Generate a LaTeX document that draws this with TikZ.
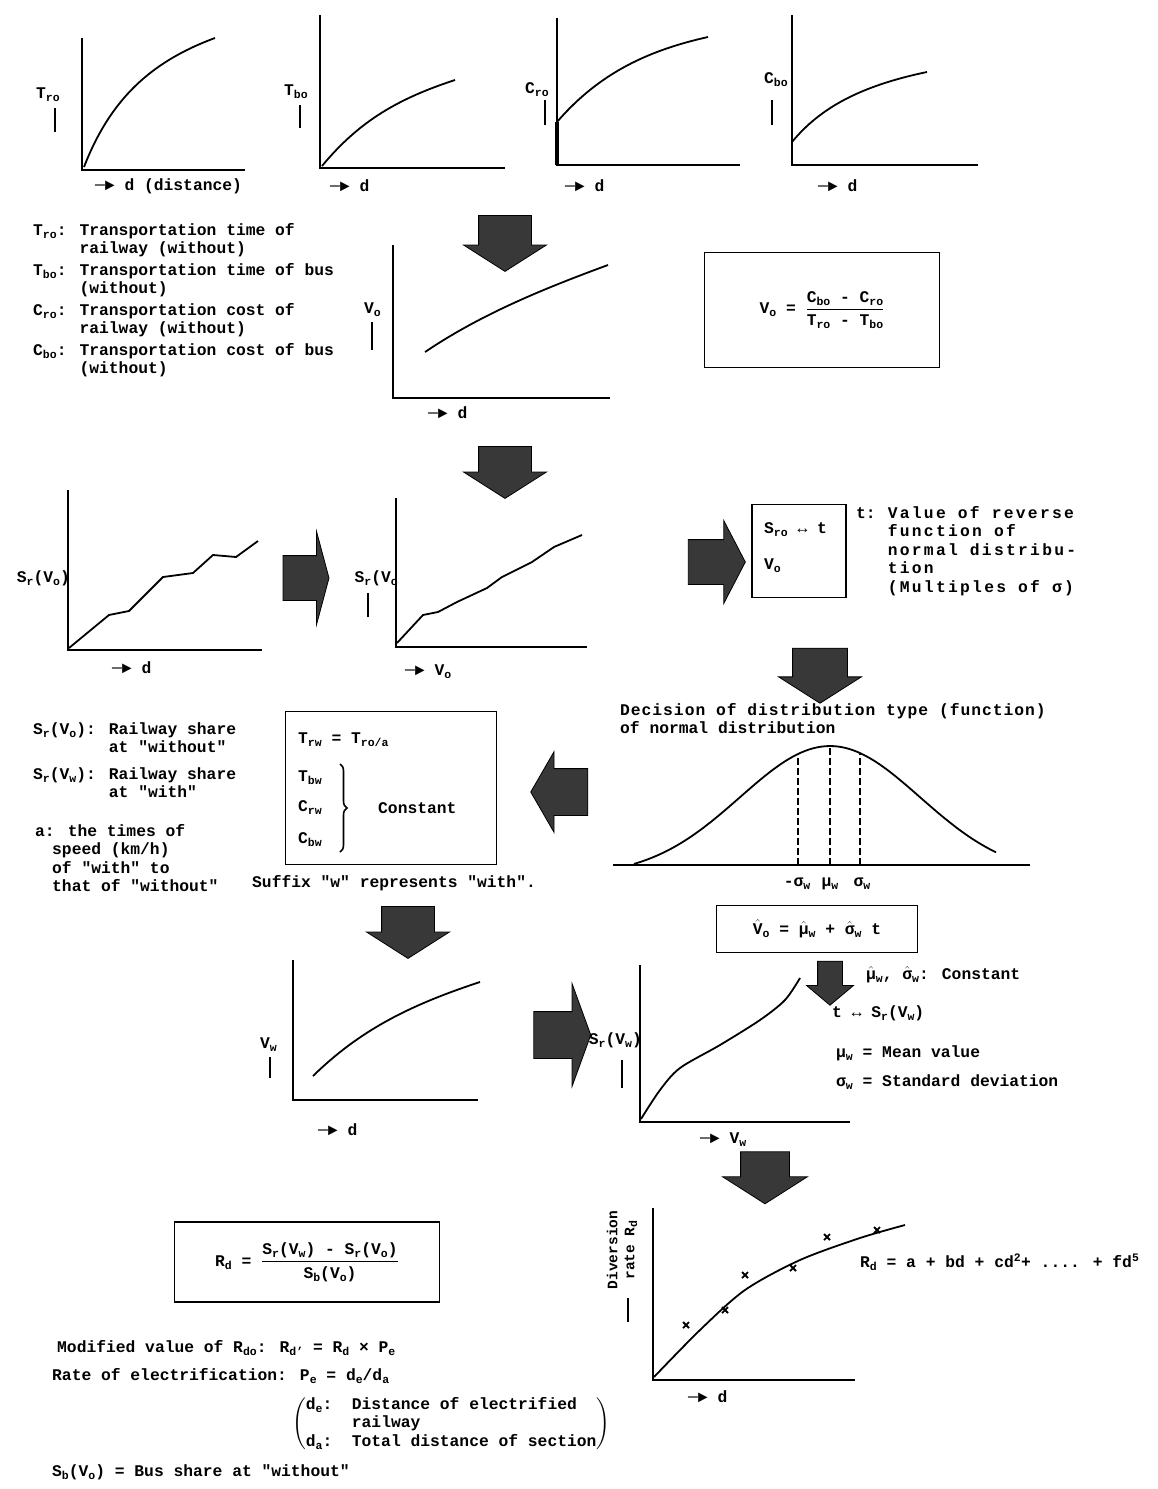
\documentclass[tikz,border=0pt]{standalone}
\usepackage{amsmath}
\usepackage{fontspec}
\setmainfont{Liberation Mono}
\newfontfamily\widefont{Liberation Mono}[LetterSpace=14]
\newfontfamily\decfont{Liberation Mono}[LetterSpace=6]
\usetikzlibrary{shapes.arrows,decorations.pathreplacing}

% small lowered subscript in the running font
\newcommand{\lo}[1]{\raisebox{-0.35ex}{\fontsize{11.5}{11.5}\selectfont #1}}
\newcommand{\hatted}[1]{$\hat{\text{#1}}$}
\newcommand{\qq}[1]{\textquotedbl#1\textquotedbl}

\tikzset{
  axisline/.style={line width=1.9pt},
  curveline/.style={line width=1.8pt},
  ybar/.style={line width=2.8pt},
  boxed/.style={draw, line width=1.7pt},
  lbl/.style={anchor=west},
  blockarrow/.style={single arrow, draw=black, line width=0.8pt, fill=black!78, inner sep=0pt},
  dashline/.style={line width=2.6pt, dash pattern=on 7pt off 3pt},
}

\begin{document}
\begin{tikzpicture}[x=1pt, y=-1pt, every node/.style={font=\bfseries\fontsize{16.3}{18.5}\selectfont, inner sep=0pt}]
  \fill[white] (0,0) rectangle (1157,1489);
  \useasboundingbox (0,0) rectangle (1157,1489);

  % top row: times and costs against distance
  \draw[axisline] (82,38) -- (82,170) -- (245,170);
  \draw[curveline] (84,167) .. controls (110,100) and (150,62) .. (215,38);
  \node[lbl] (trolab) at (36,95) {T\lo{ro}};
  \draw[ybar] (55,108) -- (55,132);
  \node[lbl] (trod) at (95,186) {─► d (distance)};

  \draw[axisline] (320,15) -- (320,168) -- (505,168);
  \draw[curveline] (322,166) .. controls (360,120) and (400,98) .. (455,80);
  \node[lbl] (tbolab) at (284,92) {T\lo{bo}};
  \draw[ybar] (300,105) -- (300,128);
  \node[lbl] (tbod) at (330,186) {─► d};

  \draw[axisline] (557,18) -- (557,165) -- (740,165);
  \draw[line width=3.6pt] (557,122) -- (557,165);
  \draw[curveline] (557,122) .. controls (600,72) and (650,50) .. (708,37);
  \node[lbl] (crolab) at (525,90) {C\lo{ro}};
  \draw[ybar] (545,100) -- (545,125);
  \node[lbl] (crod) at (565,186) {─► d};

  \draw[axisline] (792,15) -- (792,165) -- (978,165);
  \draw[curveline] (792,142) .. controls (820,108) and (860,86) .. (927,72);
  \node[lbl] (cbolab) at (764,80) {C\lo{bo}};
  \draw[ybar] (772,100) -- (772,125);
  \node[lbl] (cbod) at (818,186) {─► d};

  \node[blockarrow, shape border rotate=270, minimum height=56pt, inner xsep=26pt,
        single arrow head extend=15pt, single arrow tip angle=115] (down1) at (505,235) {};

  % legend of the top row
  \node[anchor=north west] (legtop) at (33,222) {%
    \begin{tabular}{@{}l@{ }l@{}}
      T\lo{ro}: & Transportation time of\\
                & railway (without)\\[3pt]
      T\lo{bo}: & Transportation time of bus\\
                & (without)\\[3pt]
      C\lo{ro}: & Transportation cost of\\
                & railway (without)\\[3pt]
      C\lo{bo}: & Transportation cost of bus\\
                & (without)
    \end{tabular}};

  % value of time
  \draw[axisline] (393,245) -- (393,398) -- (610,398);
  \draw[curveline] (425,352) .. controls (480,315) and (540,290) .. (608,265);
  \node[lbl] (volab) at (364,310) {V\lo{o}};
  \draw[ybar] (372,322) -- (372,350);
  \node[lbl] (vod) at (428,413) {─► d};

  \node[boxed, minimum width=235pt, minimum height=115pt] (vobox) at (822,310)
    {V\lo{o} = $\dfrac{\text{C\lo{bo} - C\lo{ro}}}{\text{T\lo{ro} - T\lo{bo}}}$};

  \node[blockarrow, shape border rotate=270, minimum height=52pt, inner xsep=26pt,
        single arrow head extend=15pt, single arrow tip angle=115] (down2) at (505,464) {};

  % railway share
  \draw[axisline] (68,490) -- (68,650) -- (262,650);
  \draw[curveline] (69,648) -- (109,615) -- (129,611) -- (163,577) -- (193,573)
    -- (213,555) -- (236,557) -- (258,541);
  \node[anchor=east] (srdlab) at (70,578) {S\lo{r}(V\lo{o})};
  \node[lbl] (srdd) at (112,668) {─► d};

  \node[blockarrow, minimum height=46pt, inner ysep=22pt,
        single arrow head extend=24pt, single arrow tip angle=150] (right1) at (303,578) {};

  \draw[axisline] (396,498) -- (396,647) -- (587,647);
  \draw[curveline] (397,643) -- (423,615) -- (438,612) -- (457,602) -- (487,588)
    -- (502,577) -- (532,562) -- (554,547) -- (582,535);
  \node[anchor=east] (srvlab) at (398,578) {S\lo{r}(V\lo{o}};
  \draw[ybar] (368,593) -- (368,617);
  \node[lbl] (srvd) at (405,672) {─► V\lo{o}};

  \node[blockarrow, minimum height=57pt, inner ysep=22pt,
        single arrow head extend=19pt, single arrow tip angle=125] (right2) at (711,562) {};

  \node[boxed, minimum width=94pt, minimum height=93pt] (srobox) at (799,551) {};
  \node[lbl] (srot) at (764,530) {S\lo{ro} ↔ t};
  \node[lbl] (srov) at (764,566) {V\lo{o}};

  \node[anchor=north west] (tnote) at (856,505) {%
    \begin{tabular}{@{}l@{\hspace{12pt}}l@{}}
      t: & \widefont\bfseries Value of reverse\\
         & \widefont\bfseries function of\\
         & \widefont\bfseries normal distribu-\\
         & \widefont\bfseries tion\\
         & \widefont\bfseries (Multiples of σ)
    \end{tabular}};

  \node[blockarrow, shape border rotate=270, minimum height=55pt, inner xsep=27pt,
        single arrow head extend=14pt, single arrow tip angle=115] (down3) at (820,667) {};

  % normal distribution
  \node[anchor=north west, align=left] (decide) at (620,703)
    {\decfont\bfseries Decision of distribution type (function)\\of normal distribution};
  \draw[line width=1.2pt] (613,865) -- (1030,865);
  \draw[curveline] plot[domain=634:996, samples=90]
    (\x, {865-130*(exp(-((\x-830)/90)^2/2)-0.085)});
  \draw[dashline] (798,865) -- (798,754);
  \draw[dashline] (830,865) -- (830,747);
  \draw[dashline] (860,865) -- (860,754);
  \node (msig) at (797,884) {-σ\lo{w}};
  \node (mmu) at (830,884) {μ\lo{w}};
  \node (psig) at (862,884) {σ\lo{w}};

  \node[blockarrow, shape border rotate=180, minimum height=57pt, inner ysep=23pt,
        single arrow head extend=17pt, single arrow tip angle=120] (left1) at (566,792) {};

  % conditions with electrification
  \node[boxed, minimum width=211pt, minimum height=153pt] (rwbox) at (391,788) {};
  \node[lbl] (trw) at (298,740) {T\lo{rw} = T\lo{ro/a}};
  \node[lbl] (tbw) at (298,778) {T\lo{bw}};
  \node[lbl] (crw) at (298,808) {C\lo{rw}};
  \node[lbl] (cbw) at (298,840) {C\lo{bw}};
  \draw[decorate, decoration={brace, amplitude=7pt}, line width=1.6pt] (340,764) -- (340,852);
  \node[lbl] (const) at (378,808) {Constant};
  \node[lbl] (suffix) at (252,883) {Suffix \qq{w} represents \qq{with}.};

  \node[anchor=north west] (legmid) at (33,721) {%
    \begin{tabular}{@{}l@{ }l@{}}
      S\lo{r}(V\lo{o}): & Railway share\\
                        & at \qq{without}\\[8pt]
      S\lo{r}(V\lo{w}): & Railway share\\
                        & at \qq{with}
    \end{tabular}};
  \node[anchor=north west, align=left] (legspeed) at (35,824)
    {a: the times of\\\hspace*{17pt}speed (km/h)\\\hspace*{17pt}of \qq{with} to\\\hspace*{17pt}that of \qq{without}};

  \node[blockarrow, shape border rotate=270, minimum height=52pt, inner xsep=26pt,
        single arrow head extend=15pt, single arrow tip angle=115] (down4) at (408,924) {};

  \node[boxed, minimum width=201pt, minimum height=47pt] (vhatbox) at (817,929)
    {\hatted{V}\lo{o} = \hatted{μ}\lo{w} + \hatted{σ}\lo{w} t};

  \node[blockarrow, shape border rotate=270, minimum height=44pt, inner xsep=12pt,
        single arrow head extend=11pt, single arrow tip angle=100] (down5) at (830,978) {};

  \node[lbl] (hatconst) at (866,975) {\hatted{μ}\lo{w}, \hatted{σ}\lo{w}:  Constant};
  \node[lbl] (tsr) at (832,1013) {t ↔ S\lo{r}(V\lo{w})};
  \node[lbl] (meanv) at (836,1053) {μ\lo{w} = Mean value};
  \node[lbl] (stdv) at (836,1082) {σ\lo{w} = Standard deviation};

  % with electrification
  \draw[axisline] (293,960) -- (293,1100) -- (478,1100);
  \draw[curveline] (313,1076) .. controls (360,1030) and (410,1005) .. (480,982);
  \node[lbl] (vwlab) at (260,1045) {V\lo{w}};
  \draw[ybar] (270,1057) -- (270,1078);
  \node[lbl] (vwd) at (318,1130) {─► d};

  \node[blockarrow, minimum height=57pt, inner ysep=23pt,
        single arrow head extend=28pt, single arrow tip angle=140] (right3) at (558,1035) {};

  \draw[axisline] (640,965) -- (640,1122) -- (850,1122);
  \draw[curveline] plot[smooth] coordinates {(641,1119) (660,1090) (680,1068) (720,1045) (760,1020) (785,1000) (800,978)};
  \node[anchor=east] (srwlab) at (642,1040) {S\lo{r}(V\lo{w})};
  \draw[ybar] (622,1060) -- (622,1088);
  \node[lbl] (srwd) at (700,1140) {─► V\lo{w}};

  \node[blockarrow, shape border rotate=270, minimum height=52pt, inner xsep=24pt,
        single arrow head extend=18pt, single arrow tip angle=115] (down6) at (765,1170) {};

  % diversion rate
  \draw[axisline] (653,1208) -- (653,1380) -- (855,1380);
  \draw[curveline] plot[smooth] coordinates {(654,1377) (700,1330) (745,1290) (800,1260) (860,1238) (905,1225)};
  \foreach \px/\py in {686/1325, 725/1310, 745/1275, 793/1268, 827/1237, 877/1230}
    \draw[line width=1.8pt] (\px-3,\py-3) -- (\px+3,\py+3) (\px-3,\py+3) -- (\px+3,\py-3);
  \node[rotate=90, align=center, font=\bfseries\fontsize{14.5}{17}\selectfont] (rdlab) at (622,1250)
    {Diversion\\rate R\lo{d}};
  \draw[ybar] (628,1298) -- (628,1322);
  \node[lbl] (rdd) at (688,1397) {─► d};
  \node[lbl] (rdfit) at (860,1262) {R\lo{d} = a + bd + cd\textsuperscript{2}+ .... + fd\textsuperscript{5}};

  \node[boxed, minimum width=265pt, minimum height=80pt] (rdbox) at (307,1262)
    {R\lo{d} = $\dfrac{\text{S\lo{r}(V\lo{w}) - S\lo{r}(V\lo{o})}}{\text{S\lo{b}(V\lo{o})}}$};

  % electrification correction
  \node[lbl] (modif) at (57,1348) {Modified value of R\lo{do}:  R\lo{d'} = R\lo{d} × P\lo{e}};
  \node[lbl] (rate) at (52,1376) {Rate of electrification: P\lo{e} = d\lo{e}/d\lo{a}};
  \node[lbl] (dist) at (292,1424) {$\left(\text{\begin{tabular}{@{}l@{\ \ }l@{}}
      d\lo{e}: & Distance of electrified\\
               & railway\\
      d\lo{a}: & Total distance of section
    \end{tabular}}\right)$};
  \node[lbl] (busshare) at (52,1472) {S\lo{b}(V\lo{o}) = Bus share at \qq{without}};
\end{tikzpicture}
\end{document}
